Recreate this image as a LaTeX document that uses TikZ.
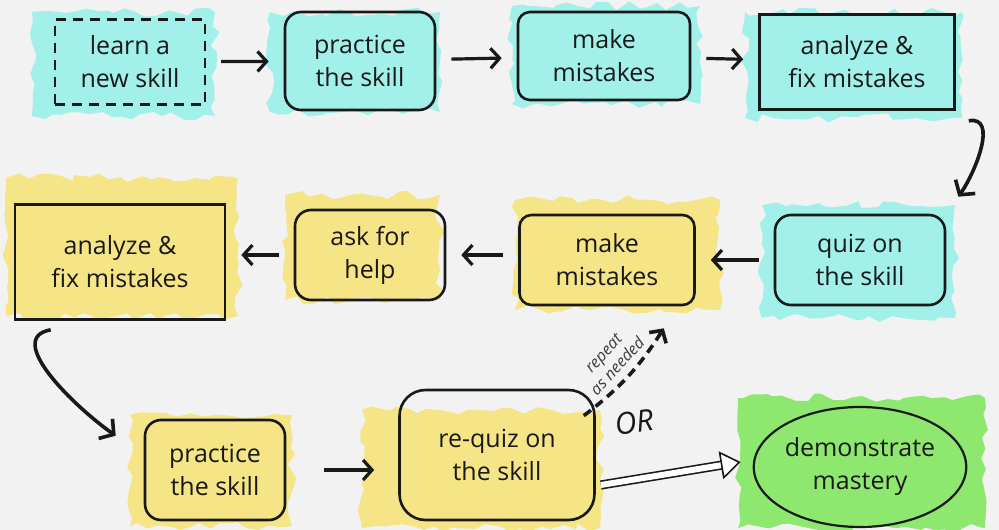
\documentclass[tikz,border=0pt]{standalone}
\usepackage{fontspec}
\setmainfont{Open Sans}
\usetikzlibrary{arrows.meta,positioning,calc,decorations.pathmorphing,shapes.geometric}
\definecolor{paper}{RGB}{242,242,242}
\definecolor{aqua}{RGB}{162,240,234}
\definecolor{butter}{RGB}{245,229,134}
\definecolor{lime}{RGB}{142,232,112}
\definecolor{ink}{RGB}{25,25,25}
\tikzset{
    stepbox/.style={
        draw=ink,
        line width=2.6pt,
        rounded corners=12pt,
        align=center,
        text=ink,
        inner sep=4pt,
        font=\fontsize{25}{33}\selectfont
    },
    sharpbox/.style={
        stepbox,
        sharp corners
    },
    dashbox/.style={
        sharpbox,
        line width=2.2pt,
        dash pattern=on 10pt off 7pt
    },
    blob/.style={
        decorate,
        decoration={random steps, segment length=10pt, amplitude=4.5pt}
    },
    flowarrow/.style={
        -{Straight Barb[length=9pt,width=20pt]},
        line width=3.2pt,
        draw=ink,
        shorten <=15pt,
        shorten >=15pt
    },
    curvearrow/.style={
        -{Straight Barb[length=10pt,width=24pt]},
        line width=3.6pt,
        draw=ink
    },
    repeatarrow/.style={
        -{Straight Barb[length=9pt,width=20pt]},
        line width=3.6pt,
        draw=ink,
        dash pattern=on 9pt off 6pt
    },
    hollowarrow/.style={
        -{Triangle[open, fill=white, length=20pt, width=28pt, line width=1.6pt]},
        line width=1.6pt,
        draw=ink,
        double=white,
        double distance=6pt
    },
    scribble/.style={
        text=ink!85,
        font=\itshape\fontsize{16}{19}\selectfont
    }
}
\begin{document}
\begin{tikzpicture}[x=1pt, y=-1pt]
    \useasboundingbox (0,0) rectangle (999,530);
    \fill[paper] (0,0) rectangle (999,530);

    % colour patches
    \pgfmathsetseed{7}
    \fill[aqua, blob] (32,12) rectangle (215,116);
    \fill[aqua, blob] (270,12) rectangle (440,112);
    \fill[aqua, blob] (512,6) rectangle (700,104);
    \fill[aqua, blob] (745,12) rectangle (962,118);
    \fill[aqua, blob] (762,205) rectangle (955,318);
    \fill[butter, blob] (515,200) rectangle (720,310);
    \fill[butter, blob] (285,195) rectangle (440,300);
    \fill[butter, blob] (6,178) rectangle (238,316);
    \fill[butter, blob] (130,415) rectangle (292,526);
    \fill[butter, blob] (362,410) rectangle (600,528);
    \fill[lime, blob] (738,398) rectangle (985,528);

    % first row
    \node[dashbox, minimum width=150pt, minimum height=85pt] (learn)
        at (130,62) {learn a\\new skill};
    \node[stepbox, rounded corners=16pt, minimum width=150pt, minimum height=98pt] (practice)
        at (360,61) {practice\\the skill};
    \node[stepbox, minimum width=172pt, minimum height=88pt] (mistakes)
        at (604,56) {make\\mistakes};
    \node[sharpbox, minimum width=195pt, minimum height=95pt] (analyze)
        at (857,62) {analyze \&\\fix mistakes};

    % second row
    \node[stepbox, rounded corners=16pt, minimum width=170pt, minimum height=90pt] (quiz)
        at (860,260) {quiz on\\the skill};
    \node[stepbox, minimum width=175pt, minimum height=90pt] (remistakes)
        at (607,260) {make\\mistakes};
    \node[stepbox, rounded corners=16pt, minimum width=150pt, minimum height=90pt] (help)
        at (370,255) {ask for\\help};
    \node[sharpbox, minimum width=210pt, minimum height=115pt] (reanalyze)
        at (120,262) {analyze \&\\fix mistakes};

    % third row
    \node[stepbox, rounded corners=16pt, minimum width=140pt, minimum height=100pt] (repractice)
        at (215,470) {practice\\the skill};
    \node[stepbox, rounded corners=26pt, minimum width=195pt, minimum height=130pt] (requiz)
        at (497,455) {re-quiz on\\the skill};
    \node[stepbox, ellipse, line width=2.2pt, inner sep=0pt,
        minimum width=205pt, minimum height=120pt] (mastery)
        at (860,467) {demonstrate\\mastery};

    % connectors
    \draw[flowarrow] (learn) -- (practice);
    \draw[flowarrow] (practice) -- (mistakes);
    \draw[flowarrow] (mistakes) -- (analyze);
    \draw[curvearrow]
        ([shift={(13pt,-10pt)}]analyze.south east)
        to[out=10,in=55]
        ([shift={(12pt,17pt)}]quiz.north east);
    \draw[flowarrow] (quiz.west) -- (remistakes.east |- quiz.west);
    \draw[flowarrow] (remistakes.west |- help.east) -- (help.east);
    \draw[flowarrow] (help.west) -- (reanalyze.east |- help.west);
    \draw[curvearrow]
        ([shift={(37pt,-9pt)}]reanalyze.south west)
        to[out=190,in=145]
        ([shift={(-28pt,-17pt)}]repractice.north west);
    \draw[flowarrow, shorten <=38pt, shorten >=24pt]
        (repractice.east) -- (requiz.west |- repractice.east);
    \draw[repeatarrow]
        ([shift={(-12pt,-27pt)}]requiz.north east)
        to[bend right=10]
        node[midway, above=4pt, sloped, align=center, scribble]
            {repeat\\as needed}
        ([shift={(-32pt,-22pt)}]remistakes.south east);
    \node[scribble, text=ink, font=\itshape\fontsize{30}{32}\selectfont, rotate=8] (orlabel)
        at (634,422) {OR};
    \draw[hollowarrow]
        ([shift={(5pt,-30pt)}]requiz.east)
        -- ([shift={(-12pt,5pt)}]mastery.west);
\end{tikzpicture}
\end{document}
